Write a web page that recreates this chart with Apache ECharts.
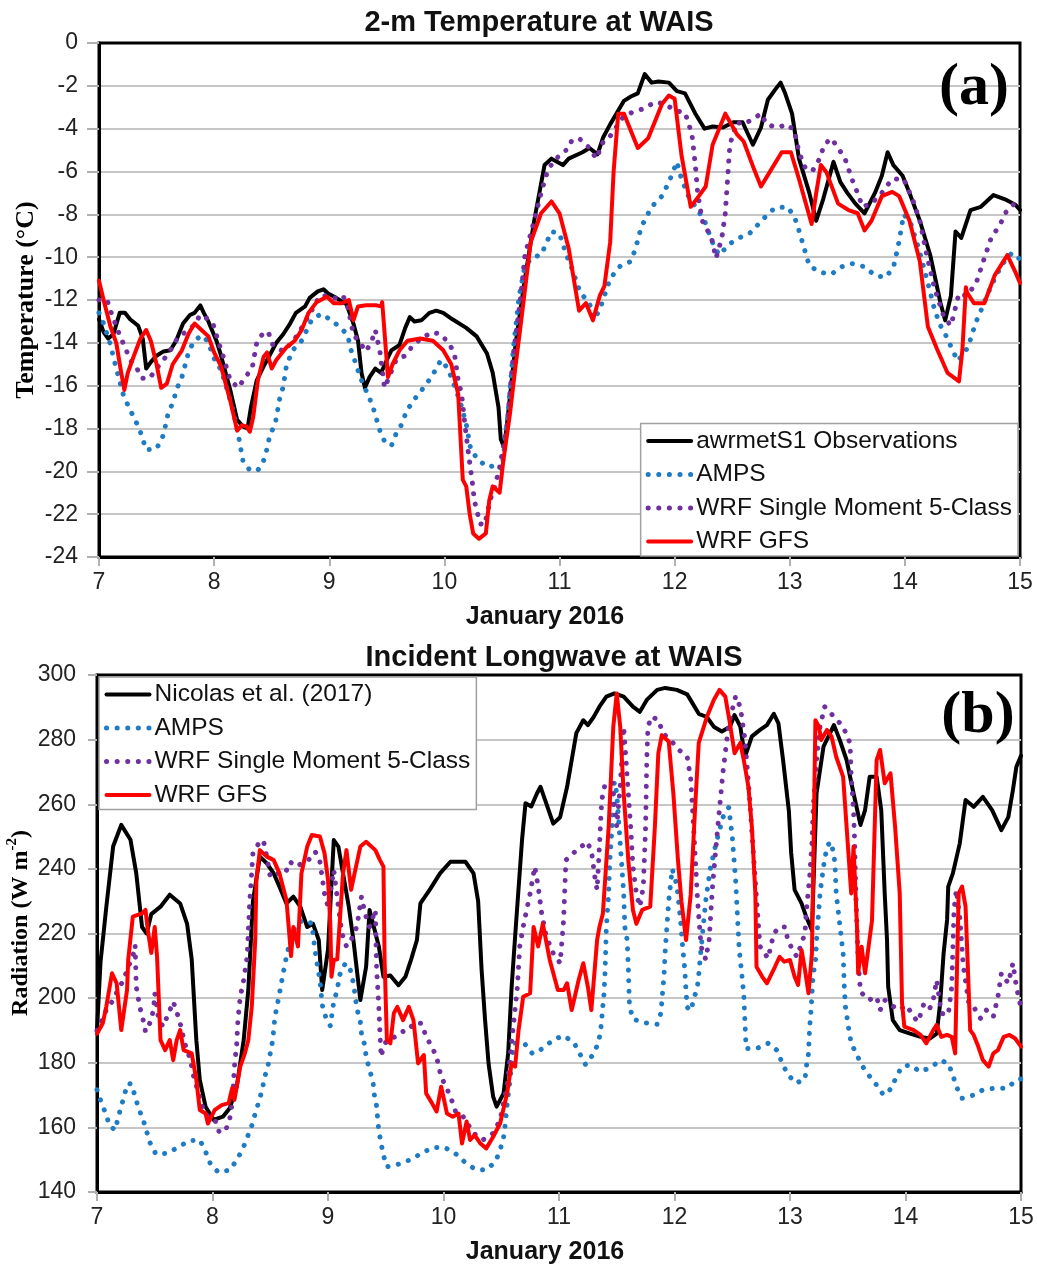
<!DOCTYPE html>
<html><head><meta charset="utf-8">
<script src="https://cdn.jsdelivr.net/npm/echarts/dist/echarts.min.js"></script>
<style>html,body{margin:0;padding:0;background:#fff}#c{width:1037px;height:1268px}</style>
</head><body><div id="c"></div>
<script>
// ---------- (a) 2-m Temperature at WAIS : [day of January 2016, °C] ----------
const tempObs = [[7.0,-12.9],[7.04,-13.5],[7.08,-13.8],[7.125,-13.6],[7.18,-12.6],[7.225,-12.6],[7.27,-12.9],[7.34,-13.2],[7.38,-13.8],[7.41,-15.2],[7.45,-14.9],[7.5,-14.6],[7.56,-14.4],[7.62,-14.35],[7.67,-13.9],[7.73,-13.1],[7.79,-12.7],[7.83,-12.6],[7.88,-12.25],[7.91,-12.6],[7.95,-13.0],[8.02,-13.9],[8.06,-14.6],[8.14,-16.2],[8.2,-17.6],[8.25,-17.9],[8.29,-18.0],[8.32,-17.0],[8.37,-15.75],[8.43,-15.1],[8.48,-14.6],[8.54,-14.0],[8.6,-13.6],[8.66,-13.1],[8.71,-12.6],[8.79,-12.3],[8.83,-11.9],[8.9,-11.6],[8.95,-11.5],[8.99,-11.7],[9.06,-11.9],[9.15,-12.2],[9.21,-13.1],[9.25,-13.9],[9.28,-15.4],[9.31,-16.1],[9.35,-15.6],[9.4,-15.2],[9.45,-15.4],[9.5,-14.8],[9.54,-14.35],[9.61,-14.1],[9.66,-13.3],[9.7,-12.8],[9.74,-13.0],[9.8,-12.95],[9.87,-12.6],[9.93,-12.5],[9.99,-12.6],[10.07,-12.9],[10.19,-13.3],[10.28,-13.7],[10.37,-14.5],[10.42,-15.4],[10.47,-17.0],[10.49,-18.5],[10.52,-18.9],[10.55,-17.5],[10.62,-14.0],[10.7,-11.0],[10.78,-8.3],[10.87,-5.7],[10.93,-5.4],[11.03,-5.7],[11.08,-5.4],[11.2,-5.1],[11.26,-4.9],[11.33,-5.2],[11.38,-4.4],[11.44,-3.8],[11.56,-2.7],[11.62,-2.5],[11.68,-2.35],[11.74,-1.45],[11.8,-1.85],[11.86,-1.8],[11.95,-1.85],[12.02,-2.25],[12.09,-2.35],[12.18,-3.3],[12.26,-4.0],[12.33,-3.9],[12.42,-3.95],[12.51,-3.7],[12.59,-3.7],[12.68,-4.75],[12.75,-3.95],[12.81,-2.65],[12.87,-2.2],[12.92,-1.85],[12.96,-2.35],[13.02,-3.3],[13.08,-5.4],[13.17,-7.0],[13.23,-8.3],[13.29,-7.3],[13.38,-5.55],[13.44,-6.5],[13.5,-7.0],[13.57,-7.5],[13.65,-7.95],[13.74,-7.0],[13.8,-6.2],[13.85,-5.1],[13.9,-5.7],[13.98,-6.2],[14.04,-7.0],[14.13,-8.3],[14.22,-9.9],[14.31,-12.15],[14.35,-12.95],[14.4,-11.8],[14.44,-8.8],[14.49,-9.1],[14.57,-7.8],[14.66,-7.65],[14.77,-7.1],[14.87,-7.3],[14.96,-7.55],[15.0,-7.8]];
const tempAmps = [[7.0,-12.6],[7.04,-13.1],[7.07,-13.6],[7.1,-14.1],[7.125,-14.65],[7.15,-15.2],[7.18,-15.8],[7.21,-16.4],[7.25,-16.9],[7.3,-17.45],[7.35,-18.0],[7.41,-19.0],[7.5,-18.95],[7.56,-18.3],[7.6,-17.3],[7.645,-16.75],[7.675,-16.15],[7.72,-15.6],[7.775,-14.5],[7.82,-13.95],[7.89,-13.65],[7.95,-13.95],[7.99,-14.65],[8.04,-15.05],[8.08,-15.6],[8.12,-16.3],[8.17,-17.3],[8.21,-18.3],[8.25,-19.5],[8.31,-19.95],[8.38,-19.95],[8.44,-19.4],[8.485,-18.3],[8.53,-17.8],[8.57,-16.6],[8.6,-16.05],[8.63,-15.0],[8.69,-14.3],[8.76,-13.9],[8.85,-12.9],[8.93,-12.65],[9.02,-12.95],[9.11,-13.35],[9.16,-13.65],[9.19,-14.35],[9.22,-14.8],[9.25,-15.3],[9.29,-15.9],[9.34,-16.45],[9.38,-17.0],[9.44,-18.1],[9.48,-18.6],[9.54,-18.8],[9.58,-18.25],[9.63,-17.8],[9.67,-17.2],[9.73,-16.7],[9.79,-16.3],[9.86,-15.8],[9.92,-15.3],[9.97,-14.8],[10.03,-15.2],[10.08,-15.9],[10.14,-16.8],[10.19,-17.8],[10.23,-19.0],[10.3,-19.5],[10.38,-19.8],[10.46,-19.7],[10.5,-19.9],[10.55,-17.5],[10.6,-14.2],[10.65,-11.8],[10.7,-10.4],[10.77,-10.0],[10.84,-9.9],[10.93,-8.8],[11.0,-8.9],[11.06,-9.9],[11.11,-10.55],[11.18,-11.65],[11.26,-12.15],[11.3,-12.9],[11.35,-12.45],[11.44,-11.0],[11.53,-10.4],[11.62,-10.2],[11.66,-9.6],[11.71,-8.6],[11.8,-7.65],[11.89,-7.15],[11.95,-6.5],[12.02,-5.55],[12.06,-6.35],[12.12,-7.15],[12.2,-7.8],[12.26,-8.3],[12.3,-8.9],[12.35,-9.6],[12.39,-9.9],[12.47,-9.4],[12.56,-9.1],[12.65,-8.9],[12.72,-8.5],[12.8,-8.05],[12.87,-7.7],[12.98,-7.65],[13.04,-8.1],[13.08,-8.75],[13.17,-10.4],[13.26,-10.7],[13.36,-10.8],[13.45,-10.45],[13.54,-10.3],[13.65,-10.45],[13.74,-10.85],[13.83,-10.95],[13.9,-10.5],[13.95,-9.25],[13.99,-8.0],[14.05,-8.4],[14.12,-9.6],[14.2,-11.2],[14.26,-12.5],[14.31,-13.2],[14.37,-13.8],[14.41,-14.3],[14.46,-14.85],[14.55,-14.2],[14.58,-13.65],[14.62,-13.0],[14.66,-12.5],[14.72,-11.7],[14.78,-11.0],[14.85,-10.3],[14.93,-9.8],[15.0,-10.1]];
const tempSm5 = [[7.0,-12.0],[7.07,-12.0],[7.11,-12.65],[7.18,-13.65],[7.23,-14.25],[7.27,-14.8],[7.33,-15.2],[7.37,-15.65],[7.44,-15.65],[7.5,-15.2],[7.56,-14.8],[7.62,-14.35],[7.68,-13.8],[7.75,-13.5],[7.82,-13.2],[7.88,-12.7],[7.95,-12.9],[7.99,-13.1],[8.04,-14.0],[8.08,-14.65],[8.14,-15.75],[8.21,-16.1],[8.27,-15.6],[8.33,-15.2],[8.37,-14.0],[8.43,-13.5],[8.47,-13.5],[8.51,-14.1],[8.6,-14.4],[8.69,-13.9],[8.75,-13.4],[8.83,-12.65],[8.92,-11.8],[9.0,-11.8],[9.06,-11.93],[9.12,-11.8],[9.16,-12.3],[9.21,-13.6],[9.25,-13.9],[9.28,-14.1],[9.32,-14.4],[9.37,-13.9],[9.4,-13.4],[9.44,-14.4],[9.48,-16.1],[9.52,-15.6],[9.58,-14.8],[9.66,-14.6],[9.73,-14.1],[9.8,-13.8],[9.89,-13.5],[9.97,-13.6],[10.05,-14.1],[10.09,-14.6],[10.12,-15.75],[10.15,-16.4],[10.18,-17.9],[10.21,-19.2],[10.24,-20.4],[10.26,-21.35],[10.31,-22.45],[10.35,-22.5],[10.4,-21.3],[10.44,-20.7],[10.48,-19.8],[10.54,-18.1],[10.6,-14.5],[10.66,-12.0],[10.7,-9.9],[10.78,-8.3],[10.84,-7.0],[10.9,-5.9],[10.97,-5.4],[11.08,-4.9],[11.11,-4.5],[11.18,-4.5],[11.26,-4.9],[11.32,-5.4],[11.38,-4.6],[11.44,-4.35],[11.56,-3.4],[11.65,-3.2],[11.74,-3.05],[11.83,-2.75],[11.92,-2.85],[12.0,-3.15],[12.09,-3.25],[12.15,-4.25],[12.18,-5.7],[12.2,-7.0],[12.24,-8.3],[12.32,-9.1],[12.36,-10.05],[12.41,-9.1],[12.44,-7.95],[12.48,-4.75],[12.54,-3.7],[12.6,-3.8],[12.68,-3.55],[12.75,-3.3],[12.8,-3.8],[12.89,-3.95],[12.98,-3.8],[13.04,-4.1],[13.08,-5.1],[13.14,-5.9],[13.2,-5.95],[13.26,-5.4],[13.3,-4.75],[13.36,-4.45],[13.42,-4.9],[13.48,-5.4],[13.54,-6.35],[13.6,-7.15],[13.63,-7.65],[13.71,-7.5],[13.8,-7.0],[13.89,-6.35],[13.99,-6.35],[14.07,-7.35],[14.13,-8.3],[14.19,-9.9],[14.26,-11.5],[14.34,-12.8],[14.4,-13.2],[14.47,-11.7],[14.54,-11.8],[14.62,-11.2],[14.69,-10.05],[14.75,-9.1],[14.83,-8.45],[14.87,-7.95],[14.95,-7.5],[15.0,-7.8]];
const tempGfs = [[7.0,-11.1],[7.04,-12.0],[7.1,-13.25],[7.15,-14.0],[7.19,-15.3],[7.22,-16.2],[7.25,-15.4],[7.3,-14.65],[7.36,-13.8],[7.41,-13.4],[7.45,-13.9],[7.5,-15.0],[7.54,-16.1],[7.59,-15.9],[7.64,-15.0],[7.72,-14.35],[7.78,-13.55],[7.83,-13.1],[7.89,-13.4],[7.95,-13.7],[8.0,-14.45],[8.06,-15.1],[8.14,-16.7],[8.2,-18.1],[8.24,-17.85],[8.28,-17.9],[8.31,-18.15],[8.34,-17.45],[8.38,-15.75],[8.43,-14.65],[8.46,-14.45],[8.5,-15.2],[8.54,-14.8],[8.63,-14.2],[8.7,-13.9],[8.76,-13.4],[8.82,-12.6],[8.89,-12.1],[8.98,-11.85],[9.04,-12.15],[9.11,-12.15],[9.17,-12.0],[9.21,-12.95],[9.25,-12.3],[9.32,-12.25],[9.41,-12.25],[9.45,-12.3],[9.46,-12.1],[9.49,-14.2],[9.51,-15.6],[9.55,-15.0],[9.61,-14.35],[9.68,-13.9],[9.79,-13.8],[9.9,-13.9],[9.99,-14.35],[10.06,-15.0],[10.12,-16.4],[10.16,-20.4],[10.19,-20.7],[10.22,-22.0],[10.25,-22.9],[10.3,-23.15],[10.36,-22.9],[10.39,-21.35],[10.42,-20.7],[10.48,-21.0],[10.51,-19.6],[10.57,-17.3],[10.62,-15.0],[10.66,-13.3],[10.75,-9.3],[10.84,-7.95],[10.93,-7.4],[11.0,-7.95],[11.08,-9.6],[11.17,-12.5],[11.23,-12.15],[11.29,-12.95],[11.35,-11.8],[11.39,-11.35],[11.44,-9.3],[11.47,-6.0],[11.51,-3.3],[11.56,-3.3],[11.68,-4.9],[11.77,-4.45],[11.83,-3.65],[11.89,-2.85],[11.95,-2.45],[12.0,-2.6],[12.06,-5.25],[12.14,-7.65],[12.21,-7.15],[12.27,-6.7],[12.33,-4.75],[12.44,-3.3],[12.54,-4.25],[12.6,-4.6],[12.69,-5.9],[12.75,-6.7],[12.84,-5.9],[12.93,-5.1],[13.01,-5.1],[13.08,-6.35],[13.14,-7.5],[13.19,-8.45],[13.23,-7.0],[13.27,-5.7],[13.32,-6.05],[13.42,-7.5],[13.51,-7.8],[13.59,-7.95],[13.65,-8.75],[13.71,-8.3],[13.8,-7.15],[13.89,-6.95],[13.95,-7.15],[14.04,-8.3],[14.13,-10.2],[14.2,-13.25],[14.28,-14.3],[14.37,-15.4],[14.47,-15.8],[14.5,-14.3],[14.53,-11.4],[14.54,-11.65],[14.6,-12.15],[14.69,-12.15],[14.78,-10.85],[14.89,-9.9],[14.96,-10.7],[15.0,-11.2]];

// ---------- (b) Incident Longwave at WAIS : [day of January 2016, W m-2] ----------
const lwObs = [[7.0,190],[7.03,211],[7.08,228],[7.14,247],[7.21,253.6],[7.29,249],[7.34,238.6],[7.39,222],[7.43,220],[7.47,226],[7.55,228.3],[7.63,232],[7.72,229.3],[7.78,223],[7.82,212],[7.86,187],[7.89,174.7],[7.94,166.4],[8.01,162.3],[8.09,163.3],[8.15,166],[8.21,172.6],[8.27,187],[8.31,202.5],[8.35,230],[8.41,243.8],[8.47,241.7],[8.53,238.6],[8.58,234.5],[8.64,229.3],[8.7,231.4],[8.76,228.3],[8.82,222],[8.87,223],[8.92,218],[8.95,202.5],[9.0,215],[9.05,248.9],[9.09,246.9],[9.13,238.6],[9.18,228.3],[9.22,218],[9.28,199.4],[9.33,209.7],[9.36,227.3],[9.39,223],[9.44,216],[9.48,206.6],[9.54,207],[9.61,204],[9.67,206.6],[9.72,212],[9.77,218],[9.8,229.3],[9.88,233.5],[9.97,238.6],[10.06,242.2],[10.19,242.2],[10.26,238.6],[10.3,230],[10.33,208.7],[10.36,193.2],[10.39,179.8],[10.43,169.5],[10.46,166.4],[10.52,170.5],[10.56,183],[10.59,203.5],[10.62,219],[10.68,249],[10.71,260.3],[10.76,259.3],[10.81,263.4],[10.84,265.4],[10.88,261.3],[10.95,254],[11.01,256],[11.07,265.4],[11.11,273.7],[11.15,282],[11.21,286],[11.25,284.5],[11.3,287],[11.35,290.2],[11.41,293.3],[11.48,294.3],[11.56,293.3],[11.64,290.2],[11.7,288.6],[11.76,292.3],[11.85,295.4],[11.92,296],[12.02,295.4],[12.11,294],[12.21,288],[12.28,287],[12.34,284],[12.41,282.5],[12.48,284],[12.52,287.6],[12.57,284],[12.61,274.7],[12.67,281],[12.74,283],[12.8,284.5],[12.86,288],[12.9,285],[12.94,273.7],[12.99,258],[13.01,245],[13.04,233.5],[13.1,229.3],[13.14,225.2],[13.19,221],[13.23,263.4],[13.29,277.8],[13.38,284.5],[13.43,280],[13.49,273.7],[13.55,263.4],[13.61,253.6],[13.65,258.2],[13.69,268.5],[13.75,268.5],[13.79,258.2],[13.82,232.4],[13.84,218],[13.85,203.5],[13.89,193.2],[13.95,190.1],[14.04,189],[14.13,188],[14.21,187.5],[14.27,189],[14.3,198.4],[14.33,213.9],[14.36,224.2],[14.37,234.5],[14.41,238.6],[14.47,247.9],[14.52,261.3],[14.59,259.2],[14.67,262.3],[14.75,258.2],[14.83,252],[14.89,256],[14.93,264.4],[14.96,271.6],[15.0,275]];
const lwAmps = [[7.0,171.6],[7.04,167.5],[7.08,163.8],[7.11,160.4],[7.16,159.2],[7.18,162.8],[7.21,166.4],[7.24,170.5],[7.27,173.6],[7.3,173.4],[7.33,169.5],[7.36,165.9],[7.4,162.3],[7.43,158.7],[7.46,155.2],[7.51,151.7],[7.61,152],[7.7,153.8],[7.8,155.9],[7.89,156.1],[7.94,152.5],[7.98,148.9],[8.05,146.1],[8.15,146.8],[8.21,149.9],[8.26,153.2],[8.3,156.8],[8.34,160.5],[8.37,164.3],[8.4,167.8],[8.43,171.6],[8.45,175.4],[8.48,179],[8.5,182.9],[8.52,186.7],[8.53,190.3],[8.54,194.1],[8.56,197.7],[8.58,201.5],[8.6,205.3],[8.62,209.2],[8.64,212.8],[8.68,219],[8.73,223],[8.79,224.2],[8.86,223.1],[8.88,217],[8.9,211.8],[8.93,205.6],[8.95,197.9],[8.98,194.2],[9.02,191.4],[9.05,198.9],[9.08,202.5],[9.1,207.1],[9.15,210.8],[9.19,209.2],[9.22,204.6],[9.25,196.8],[9.28,192.7],[9.29,189],[9.32,185.2],[9.33,181.9],[9.36,177.8],[9.39,174.1],[9.4,170.3],[9.42,166.7],[9.43,162.6],[9.44,158.9],[9.46,155],[9.48,151.4],[9.51,147.8],[9.62,148.7],[9.72,150.1],[9.81,152],[9.91,153.8],[10.01,153.8],[10.1,152],[10.18,149.4],[10.27,147.1],[10.37,146.8],[10.45,149.4],[10.49,153],[10.52,156.9],[10.53,159.4],[10.55,166.8],[10.58,176],[10.61,186],[10.7,186],[10.77,182.8],[10.86,184.4],[10.95,187.1],[11.04,188.4],[11.13,186.2],[11.18,182.8],[11.23,179.4],[11.29,182.3],[11.34,186],[11.36,189.7],[11.37,193.5],[11.38,197.7],[11.39,201.5],[11.4,209],[11.41,222],[11.43,232.4],[11.44,242.7],[11.46,253.1],[11.47,263.4],[11.48,267],[11.5,263.4],[11.52,253],[11.54,242.7],[11.56,232.4],[11.57,222],[11.59,218],[11.6,209.5],[11.61,197.7],[11.64,193.5],[11.74,192.4],[11.85,191.9],[11.88,195.1],[11.89,198.8],[11.9,203.1],[11.91,207.3],[11.92,215],[11.95,230],[11.98,240],[12.02,235],[12.05,225],[12.07,216],[12.09,208.4],[12.1,202],[12.11,197.2],[12.14,196.1],[12.17,199.9],[12.2,204.1],[12.21,207.3],[12.23,215.3],[12.27,230],[12.31,240],[12.36,248],[12.42,256],[12.47,259],[12.5,250],[12.53,236],[12.56,215],[12.58,208.4],[12.6,201],[12.61,192.4],[12.62,184.4],[12.71,184.4],[12.81,186],[12.89,183.8],[12.93,180.1],[12.98,176.4],[13.05,173.7],[13.13,174.8],[13.14,178.5],[13.16,182.8],[13.17,190.8],[13.18,195.1],[13.19,201],[13.2,207.3],[13.22,211.1],[13.23,218],[13.26,232.4],[13.29,240.7],[13.32,246.9],[13.35,248.4],[13.38,244.8],[13.39,240.7],[13.4,232.4],[13.42,226.2],[13.44,220],[13.46,213.9],[13.47,203.5],[13.48,197.3],[13.51,190.1],[13.53,186],[13.58,182.4],[13.62,179.3],[13.68,176.2],[13.75,173.1],[13.81,170],[13.88,172.1],[13.92,175.7],[13.97,178.8],[14.04,179.3],[14.13,177.2],[14.23,178.8],[14.3,180.8],[14.37,179.8],[14.41,176.2],[14.44,172.6],[14.49,169],[14.59,170],[14.67,171.6],[14.77,172.1],[14.88,172.1],[14.96,174.7],[15.0,175]];
const lwSm5 = [[7.0,190],[7.04,193],[7.08,196.3],[7.14,199.4],[7.18,202.5],[7.23,205.6],[7.27,209.7],[7.31,212.8],[7.33,216.4],[7.34,203.5],[7.37,197.3],[7.4,193.2],[7.42,189.6],[7.47,193.2],[7.49,196.8],[7.5,201.5],[7.53,194.2],[7.57,191.2],[7.62,195.3],[7.66,198.9],[7.69,195.8],[7.72,192.2],[7.76,186],[7.81,180.8],[7.83,176.7],[7.88,170.5],[7.92,165.4],[7.98,162.3],[8.03,161.8],[8.06,158.3],[8.12,159.7],[8.15,162.8],[8.17,167.5],[8.18,172.6],[8.19,178.8],[8.21,186],[8.22,193.2],[8.24,200.4],[8.27,205.6],[8.3,212.8],[8.32,228.3],[8.35,244.8],[8.4,247.9],[8.44,248.9],[8.47,243.8],[8.5,237.6],[8.56,238.6],[8.63,238.6],[8.67,242.2],[8.73,240.7],[8.77,241.7],[8.83,242.7],[8.89,245.3],[8.93,242.2],[8.97,232.4],[9.0,228.3],[9.05,239.6],[9.09,228.3],[9.12,220.1],[9.16,216],[9.2,218],[9.25,222.1],[9.29,231.4],[9.32,226.2],[9.36,222.1],[9.41,227.3],[9.42,209.7],[9.44,197.3],[9.45,189],[9.46,181.8],[9.48,184.9],[9.51,187],[9.58,188],[9.64,189.6],[9.7,190.1],[9.74,192.2],[9.81,192.2],[9.85,188],[9.9,184.9],[9.94,181.8],[9.98,175.6],[10.03,172],[10.07,168.5],[10.11,164.3],[10.17,163.3],[10.26,158.2],[10.34,156.1],[10.43,158.2],[10.49,162.3],[10.55,172.6],[10.58,182.9],[10.61,193.2],[10.64,203.5],[10.66,215.9],[10.69,222.1],[10.75,232.4],[10.79,240.7],[10.82,234.5],[10.85,226.2],[10.89,219],[10.95,213.9],[11.01,210.8],[11.04,224.2],[11.06,242.7],[11.12,244.8],[11.18,246.4],[11.24,248.4],[11.28,245.8],[11.31,237.6],[11.33,233.5],[11.35,246.9],[11.37,261.3],[11.4,266.5],[11.46,266.5],[11.5,253.1],[11.53,265.4],[11.56,284],[11.59,268.5],[11.62,253.1],[11.64,240.7],[11.67,232.4],[11.7,228.3],[11.73,234.5],[11.75,253.1],[11.76,273.7],[11.77,284],[11.8,287.1],[11.86,286.1],[11.9,282],[11.99,278.9],[12.04,276.8],[12.11,274.6],[12.14,268],[12.17,250],[12.2,230],[12.23,216],[12.27,212],[12.3,218],[12.33,235],[12.38,255],[12.42,270],[12.47,285],[12.53,293.5],[12.57,290],[12.61,280],[12.65,262],[12.7,236],[12.74,216],[12.81,212.3],[12.86,220],[12.91,222.1],[12.96,222],[12.98,218],[13.03,214.4],[13.06,212.8],[13.1,217],[13.13,220.1],[13.14,226.2],[13.17,237.6],[13.19,247.9],[13.2,258.2],[13.23,273.7],[13.26,284],[13.3,290.2],[13.38,287.1],[13.46,284],[13.52,278.9],[13.53,268.5],[13.55,258.2],[13.56,247.9],[13.57,232.4],[13.58,222.1],[13.59,211.8],[13.61,202],[13.68,199.4],[13.75,200.4],[13.78,196.3],[13.82,199.4],[13.88,197.8],[13.94,196.3],[14.01,197.8],[14.07,194.2],[14.11,192.7],[14.16,198.4],[14.21,196.8],[14.24,199.4],[14.27,205.6],[14.31,195.3],[14.37,194.8],[14.4,203.5],[14.41,215],[14.42,227.3],[14.44,233.5],[14.47,225],[14.5,210],[14.55,198],[14.59,197.3],[14.65,193.7],[14.7,196.3],[14.76,194.2],[14.8,200.4],[14.83,207.7],[14.89,204.6],[14.93,210.8],[14.96,203.5],[15.0,197]];
const lwGfs = [[7.0,189],[7.05,192.2],[7.08,197.3],[7.13,207.7],[7.17,204.6],[7.21,190.1],[7.26,202.5],[7.27,211.8],[7.31,225.2],[7.39,226.2],[7.42,227.3],[7.44,221],[7.47,214],[7.5,222],[7.52,212.8],[7.55,187],[7.59,183.9],[7.63,187],[7.66,180.8],[7.69,187],[7.72,190.1],[7.75,183.9],[7.82,182.9],[7.86,174.7],[7.89,165.4],[7.94,164.3],[7.96,161.2],[8.02,165.4],[8.08,166.9],[8.14,167.5],[8.17,172.1],[8.19,168.5],[8.24,178.8],[8.28,182.9],[8.31,187],[8.34,197.3],[8.37,218],[8.38,236.6],[8.41,245.8],[8.47,243.8],[8.53,242.7],[8.58,238.6],[8.64,230.4],[8.66,222],[8.68,213],[8.7,222],[8.74,216],[8.77,238.6],[8.82,246.9],[8.86,250.5],[8.93,250],[8.97,244.8],[9.0,236.6],[9.02,223],[9.03,206.6],[9.05,211.8],[9.08,212],[9.13,238.6],[9.16,245.8],[9.2,233.5],[9.23,238.6],[9.28,246.9],[9.33,248.4],[9.41,245.8],[9.45,242.7],[9.48,240.7],[9.49,211.8],[9.51,187],[9.54,186],[9.57,195.3],[9.6,197.3],[9.65,193.2],[9.7,197.3],[9.74,193.2],[9.78,179.8],[9.83,182.4],[9.85,170.5],[9.9,167.5],[9.94,164.9],[9.98,172.6],[10.03,164.3],[10.08,163.3],[10.13,164.3],[10.16,155],[10.2,161.8],[10.23,156.1],[10.27,157.6],[10.32,155],[10.37,153.5],[10.43,157.1],[10.49,161.2],[10.55,170.5],[10.59,179.8],[10.62,178.8],[10.65,190.1],[10.69,200.4],[10.75,201.5],[10.78,222],[10.82,216],[10.86,223],[10.92,211.8],[10.99,202.5],[11.04,202.5],[11.07,204.6],[11.11,196.3],[11.17,205.6],[11.21,210.8],[11.25,203.5],[11.28,196.3],[11.33,218],[11.35,222],[11.38,226.2],[11.43,253],[11.47,284],[11.5,294.3],[11.53,284],[11.56,263.4],[11.6,242.7],[11.64,227.3],[11.67,223],[11.72,227.3],[11.79,228.3],[11.83,253],[11.86,275.8],[11.89,281.4],[11.95,279.4],[11.99,263.4],[12.03,242.7],[12.06,230],[12.1,218],[12.14,232],[12.18,260],[12.21,279],[12.28,287],[12.34,292.3],[12.39,295.4],[12.44,293.3],[12.48,285],[12.52,275.8],[12.57,279],[12.6,273.7],[12.64,265.4],[12.67,253],[12.7,232.4],[12.71,209.7],[12.76,206.6],[12.8,204.6],[12.87,209.7],[12.91,212.8],[12.95,211.3],[13.0,211.8],[13.04,206.6],[13.07,204.1],[13.1,214.9],[13.13,208.7],[13.16,201.5],[13.19,213.9],[13.22,286],[13.25,284],[13.27,279.9],[13.32,283],[13.36,280.9],[13.4,274.7],[13.46,268.5],[13.5,247.9],[13.53,232.4],[13.55,246.9],[13.58,222],[13.59,207.7],[13.62,215.9],[13.65,207.7],[13.68,215.9],[13.71,224],[13.75,273.7],[13.78,276.8],[13.82,266.5],[13.87,269.6],[13.91,253],[13.95,232.4],[13.97,198.4],[13.99,191.2],[14.07,190.1],[14.13,188.6],[14.18,186],[14.24,190.1],[14.27,191.7],[14.31,188],[14.36,188.6],[14.4,188],[14.43,182.9],[14.46,232.4],[14.49,234.5],[14.52,228.3],[14.56,190.1],[14.59,188.6],[14.63,185],[14.67,180.8],[14.72,178.8],[14.76,182.9],[14.8,183.9],[14.85,188],[14.9,188.6],[14.95,187.5],[15.0,185]];

const seriesNamesA = ['awrmetS1 Observations','AMPS','WRF Single Moment 5-Class','WRF GFS'];
const seriesNamesB = ['Nicolas et al. (2017)','AMPS','WRF Single Moment 5-Class','WRF GFS'];
const dayRange = [7, 15];
const tempRange = [-24, 0, 2];
const lwRange = [140, 300, 20];

const BLACK = '#000000', BLUE = '#1f7cc4', PURPLE = '#7030a0', RED = '#ff0000';
const DOT = [0.1, 10.5];
const SANS = '"Liberation Sans", Arial, sans-serif';
const SERIF = '"Liberation Serif", "Times New Roman", serif';

function mk(name, data, idx, color, dotted) {
  return {
    type: 'line', name, data, xAxisIndex: idx, yAxisIndex: idx,
    symbol: 'none', showSymbol: false, animation: false, silent: true,
    lineStyle: { color, width: dotted ? 5 : 4, type: dotted ? DOT : 'solid', cap: 'round', join: 'round' },
    itemStyle: { color }
  };
}
function xAx(idx) {
  return {
    type: 'value', gridIndex: idx, min: dayRange[0], max: dayRange[1], interval: 1,
    axisLine: { show: true, onZero: false, lineStyle: { color: '#000', width: 3 } },
    axisTick: { show: true, length: 9, lineStyle: { color: '#b0b0b0', width: 2 } },
    axisLabel: { fontFamily: SANS, fontSize: 23, color: '#222', margin: 14, showMinLabel: true, showMaxLabel: true },
    splitLine: { show: false }
  };
}
function yAx(idx, r, tickLen) {
  return {
    type: 'value', gridIndex: idx, min: r[0], max: r[1], interval: r[2],
    axisLine: { show: true, onZero: false, lineStyle: { color: '#000', width: 3 } },
    axisTick: { show: true, length: tickLen, lineStyle: { color: '#b0b0b0', width: 2 } },
    axisLabel: { fontFamily: SANS, fontSize: 23, color: '#222', margin: 21, showMinLabel: true, showMaxLabel: true },
    splitLine: { show: true, showMinLine: false, showMaxLine: false, lineStyle: { color: '#c6c6c6', width: 2 } }
  };
}
function legendFor(names, pos) {
  return Object.assign({
    orient: 'vertical', itemWidth: 43, itemHeight: 14, itemGap: 8.5,
    padding: [5, 6, 2, 5], backgroundColor: '#ffffff', borderColor: '#a0a0a0', borderWidth: 1.5, borderRadius: 0,
    selectedMode: false,
    textStyle: { fontFamily: SANS, fontSize: 24.5, color: '#111' },
    itemStyle: { color: 'transparent', borderWidth: 0, borderColor: 'transparent' },
    data: names.map((n, i) => ({ name: n, lineStyle: { width: (i === 1 || i === 2) ? 5 : 4 } }))
  }, pos);
}

const chart = echarts.init(document.getElementById('c'), null, { renderer: 'canvas' });
chart.setOption({
  backgroundColor: '#ffffff',
  animation: false,
  grid: [
    { left: 99, top: 43, width: 921, height: 514, show: true, borderColor: '#000', borderWidth: 3, backgroundColor: 'transparent' },
    { left: 97, top: 675, width: 924, height: 517, show: true, borderColor: '#000', borderWidth: 3, backgroundColor: 'transparent' }
  ],
  xAxis: [xAx(0), xAx(1)],
  yAxis: [yAx(0, tempRange, 12), yAx(1, lwRange, 9)],
  legend: [
    legendFor(seriesNamesA, { right: 19, bottom: 712 }),
    legendFor(seriesNamesB, { left: 99, top: 677 })
  ],
  series: [
    mk(seriesNamesA[0], tempObs, 0, BLACK, false),
    mk(seriesNamesA[1], tempAmps, 0, BLUE, true),
    mk(seriesNamesA[2], tempSm5, 0, PURPLE, true),
    mk(seriesNamesA[3], tempGfs, 0, RED, false),
    mk(seriesNamesB[0], lwObs, 1, BLACK, false),
    mk(seriesNamesB[1], lwAmps, 1, BLUE, true),
    mk(seriesNamesB[2], lwSm5, 1, PURPLE, true),
    mk(seriesNamesB[3], lwGfs, 1, RED, false)
  ],
  graphic: [
    { type: 'text', x: 539, y: 23, style: { text: '2-m Temperature at WAIS', font: 'bold 29px ' + SANS, fill: '#111', align: 'center', verticalAlign: 'middle' } },
    { type: 'text', x: 554, y: 658, style: { text: 'Incident Longwave at WAIS', font: 'bold 29px ' + SANS, fill: '#111', align: 'center', verticalAlign: 'middle' } },
    { type: 'text', x: 545, y: 617, style: { text: 'January 2016', font: 'bold 25px ' + SANS, fill: '#111', align: 'center', verticalAlign: 'middle' } },
    { type: 'text', x: 545, y: 1252, style: { text: 'January 2016', font: 'bold 25px ' + SANS, fill: '#111', align: 'center', verticalAlign: 'middle' } },
    { type: 'text', x: 26, y: 300, rotation: Math.PI / 2, style: { text: 'Temperature (°C)', font: 'bold 26px ' + SERIF, fill: '#000', align: 'center', verticalAlign: 'middle' } },
    { type: 'text', x: 19, y: 923, rotation: Math.PI / 2, style: {
        text: '{a|Radiation (W m}{s|-2}{a|)}', align: 'center', verticalAlign: 'middle', fill: '#000',
        rich: { a: { font: 'bold 24px ' + SERIF, fill: '#000', lineHeight: 28, verticalAlign: 'bottom' },
                s: { font: 'bold 15px ' + SERIF, fill: '#000', lineHeight: 28, verticalAlign: 'top' } } } },
    { type: 'text', x: 974, y: 88, z: 10, style: { text: '(a)', font: 'bold 60px ' + SERIF, fill: '#000', align: 'center', verticalAlign: 'middle' } },
    { type: 'text', x: 978, y: 716, z: 10, style: { text: '(b)', font: 'bold 60px ' + SERIF, fill: '#000', align: 'center', verticalAlign: 'middle' } }
  ]
});
</script></body></html>
